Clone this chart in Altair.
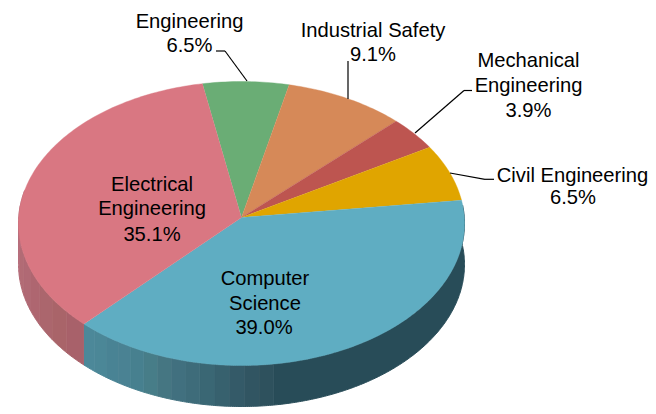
import math
import altair as alt
import pandas as pd

# ---- data ----
names = ["Engineering", "Industrial Safety", "Mechanical Engineering", "Civil Engineering", "Computer Science", "Electrical Engineering"]
shares = [6.5, 9.1, 3.9, 6.5, 39.0, 35.1]
face_colors = ["#6AAD75", "#D68958", "#BD5550", "#E0A500", "#5FADC2", "#D97782"]

# side wall shading, front-left part (stripes), left to right
blue_wall_colors = ["#4C8899", "#4B8797", "#498394", "#4A8293", "#47808F", "#477D88", "#457682", "#41707F", "#3E6C7A", "#3A6774", "#37616E", "#345A68", "#315562", "#2E515D"]
blue_wall_flat = "#284C58"
pink_wall_colors = ["#A8616A", "#A96469", "#AB666D", "#AE6670", "#B06974", "#B26B75", "#B56D7A", "#B86F7D", "#BA707F"]

# ---- geometry of the tilted disc ----
start_deg = -10.5
perspective = 0.0423
wall_drop = 41 / 141.75   # wall height, in units of the vertical radius


def rim(t_deg, drop=0.0):
    t = math.radians(t_deg)
    X, Y = math.sin(t), math.cos(t)
    w = 1 + perspective * Y
    return X / w, Y / w - drop


rows_face, rows_wall = [], []
edges = [start_deg]
for s in shares:
    edges.append(edges[-1] + s / sum(shares) * 360)

for k, name in enumerate(names):
    rows_face.append(dict(piece=name, i=0, x=0.0, y=0.0, c=face_colors[k]))
    n = max(4, int(edges[k + 1] - edges[k]))
    for j in range(n + 1):
        x, y = rim(edges[k] + (edges[k + 1] - edges[k]) * j / n)
        rows_face.append(dict(piece=name, i=j + 1, x=x, y=y, c=face_colors[k]))


def add_wall(piece, t0, t1, color):
    n = max(2, int(abs(t1 - t0) * 2))
    ts = [t0 + (t1 - t0) * j / n for j in range(n + 1)]
    i = 0
    for t in ts:
        x, y = rim(t)
        rows_wall.append(dict(piece=piece, i=i, x=x, y=y, c=color))
        i += 1
    for t in reversed(ts):
        x, y = rim(t, wall_drop)
        rows_wall.append(dict(piece=piece, i=i, x=x, y=y, c=color))
        i += 1


blue_end = edges[5]
bend = 172.0
add_wall("blue-flat", 85.0, bend, blue_wall_flat)
nb = len(blue_wall_colors)
for k, col in enumerate(reversed(blue_wall_colors)):
    add_wall(f"blue-{k}", bend + (blue_end - bend) * k / nb, bend + (blue_end - bend) * (k + 1) / nb, col)
np_ = len(pink_wall_colors)
pink_stop = 281.0
for k, col in enumerate(pink_wall_colors):
    add_wall(f"pink-{k}", blue_end + (pink_stop - blue_end) * k / np_, blue_end + (pink_stop - blue_end) * (k + 1) / np_, col)

W, H = 640, 400
RX, RY = 222.8, 141.75
CX, CY = 241.5 - 8, 217.5 - 8
x_scale = alt.Scale(domain=[-CX / RX, (W - CX) / RX], range=[0, W], nice=False, zero=False)
y_scale = alt.Scale(domain=[(CY - H) / RY, CY / RY], range=[H, 0], nice=False, zero=False)


def polys(rows, stroke_width):
    return (
        alt.Chart(pd.DataFrame(rows))
        .mark_line(strokeWidth=stroke_width, interpolate="linear", clip=False)
        .encode(
            x=alt.X("x:Q", scale=x_scale, axis=None),
            y=alt.Y("y:Q", scale=y_scale, axis=None),
            detail="piece:N",
            order="i:Q",
            fill=alt.Fill("c:N", scale=None, legend=None),
            stroke=alt.Stroke("c:N", scale=None, legend=None),
        )
    )


layers = [polys(rows_wall, 1.0), polys(rows_face, 0.4)]

# leader lines (page pixels minus the 8px margin)
leaders = [
    (216, 51, 225, 51), (225, 51, 247, 81),
    (348, 61, 348, 99),
    (472, 90.5, 464, 90.5), (464, 90.5, 415, 133),
    (450, 173, 485, 179.3), (485, 179.3, 494, 179.3),
]
anchor = pd.DataFrame({"a": [0]})
for x1, y1, x2, y2 in leaders:
    layers.append(
        alt.Chart(anchor).mark_rule(color="#000000", strokeWidth=1.2).encode(
            x=alt.value(x1 - 8), x2=alt.value(x2 - 8), y=alt.value(y1 - 8), y2=alt.value(y2 - 8)
        )
    )

labels = [
    ("Engineering", 189.5, 28), ("6.5%", 189.5, 52),
    ("Industrial Safety", 373, 37), ("9.1%", 373, 61),
    ("Mechanical", 528.5, 67), ("Engineering", 528.5, 92), ("3.9%", 528.5, 117),
    ("Civil Engineering", 572.5, 182), ("6.5%", 573, 204),
    ("Electrical", 152, 191), ("Engineering", 152, 215), ("35.1%", 152, 241),
    ("Computer", 265, 285), ("Science", 265, 310), ("39.0%", 264, 334),
]
for text, px, py in labels:
    layers.append(
        alt.Chart(anchor).mark_text(
            text=text, font="Liberation Sans", fontSize=20.2, color="#000000", align="center", baseline="alphabetic"
        ).encode(x=alt.value(px - 8), y=alt.value(py - 8))
    )

chart = (
    alt.layer(*layers)
    .properties(width=W, height=H, padding=0, background="#ffffff", autosize=alt.AutoSizeParams(type="none"))
    .configure_view(stroke=None)
)
chart.save("out.html", embed_options={"renderer": "svg", "actions": False})
